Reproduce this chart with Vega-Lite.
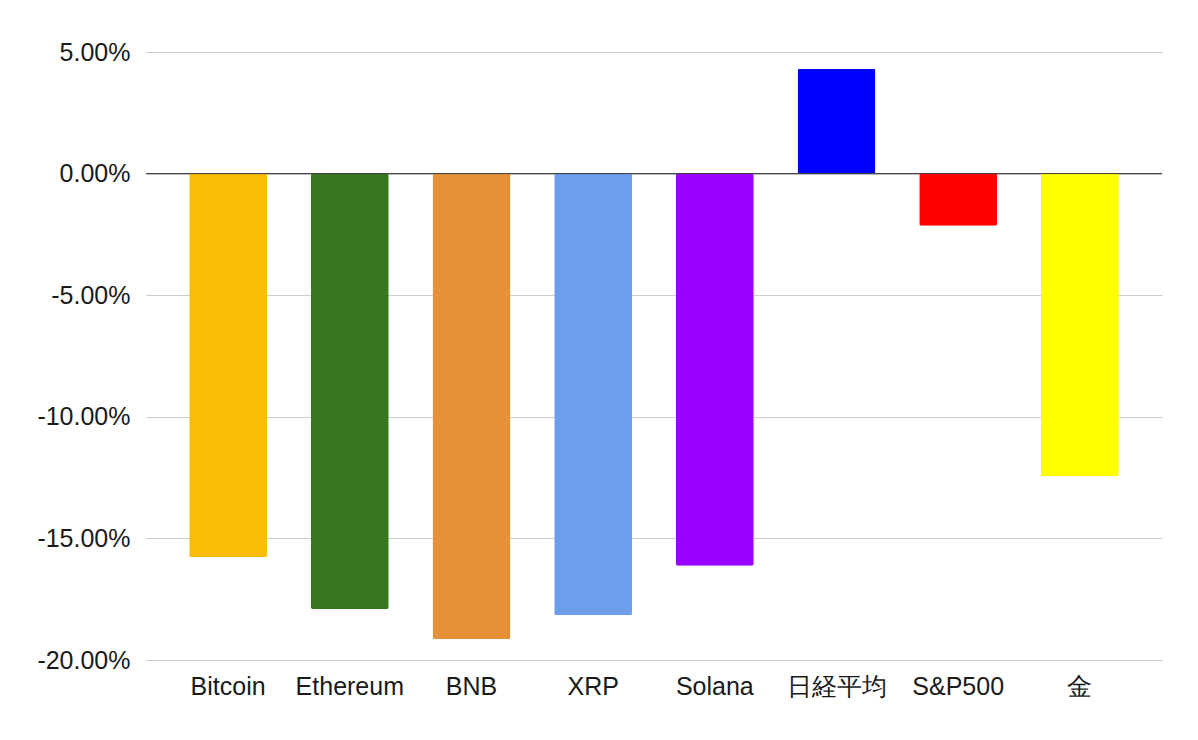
{
  "$schema": "https://vega.github.io/schema/vega-lite/v6.json",
  "autosize": {"type": "none"},
  "width": 1016,
  "height": 608,
  "padding": {"left": 146, "top": 52, "right": 36, "bottom": 80},
  "background": "white",
  "data": {
    "values": [
      {"asset": "Bitcoin", "change": -0.1577, "color": "#fbbc04"},
      {"asset": "Ethereum", "change": -0.179, "color": "#38761d"},
      {"asset": "BNB", "change": -0.1915, "color": "#e69138"},
      {"asset": "XRP", "change": -0.1816, "color": "#6d9eeb"},
      {"asset": "Solana", "change": -0.1612, "color": "#9900ff"},
      {"asset": "日経平均", "change": 0.0431, "color": "#0000ff"},
      {"asset": "S&P500", "change": -0.0214, "color": "#ff0000"},
      {"asset": "金", "change": -0.1245, "color": "#ffff00"}
    ]
  },
  "config": {
    "view": {"stroke": null},
    "font": "Liberation Sans"
  },
  "layer": [
    {
      "mark": {"type": "bar", "cornerRadius": 2},
      "encoding": {
        "x": {
          "field": "asset",
          "type": "nominal",
          "sort": null,
          "scale": {"paddingInner": 0.36, "paddingOuter": 0.355},
          "axis": {
            "title": null,
            "labelAngle": 0,
            "labelFontSize": 25,
            "labelColor": "#1a1a1a",
            "labelPadding": 14,
            "ticks": false,
            "domain": false,
            "grid": false
          }
        },
        "y": {
          "field": "change",
          "type": "quantitative",
          "scale": {"domain": [-0.2, 0.05], "nice": false, "zero": false},
          "axis": {
            "title": null,
            "values": [-0.2, -0.15, -0.1, -0.05, 0, 0.05],
            "labelExpr": "replace(format(datum.value, '.2%'), '−', '-')",
            "labelFontSize": 25,
            "labelColor": "#1a1a1a",
            "labelPadding": 16,
            "ticks": false,
            "domain": false,
            "grid": true,
            "gridColor": "#cccccc",
            "gridWidth": 1
          }
        },
        "color": {"field": "color", "type": "nominal", "scale": null, "legend": null}
      }
    },
    {
      "data": {"values": [{"zero": 0}]},
      "mark": {"type": "rule", "color": "#333333", "strokeWidth": 1},
      "encoding": {
        "y": {"field": "zero", "type": "quantitative"}
      }
    }
  ]
}
